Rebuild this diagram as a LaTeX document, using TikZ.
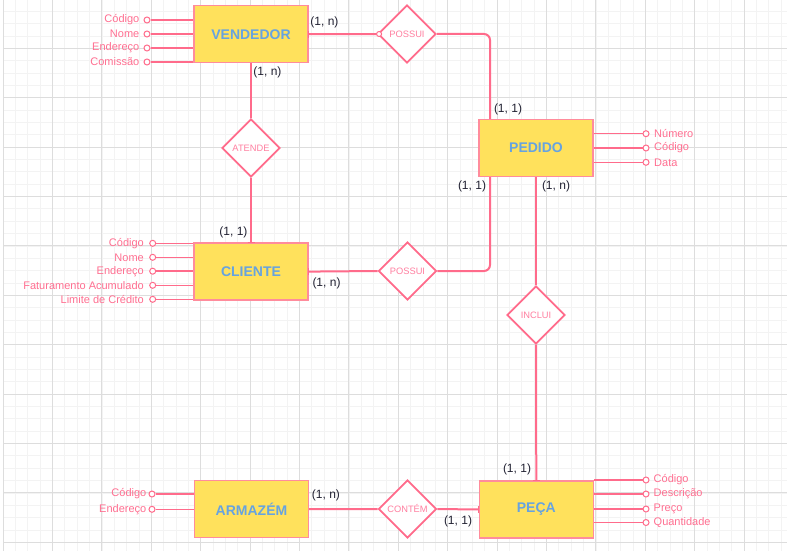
\documentclass[tikz,border=0pt]{standalone}
\usepackage{fontspec}
\setmainfont{Liberation Sans}
\usetikzlibrary{shapes.geometric,calc}
\definecolor{entfill}{HTML}{FFE15C}
\definecolor{entborder}{HTML}{FF8C9C}
\definecolor{enttext}{HTML}{66A3E0}
\definecolor{linepink}{HTML}{FF6B8B}
\definecolor{attrpink}{HTML}{FF6F91}
\definecolor{reltext}{HTML}{FF7FA0}
\definecolor{cardtext}{HTML}{222233}
\definecolor{minorgrid}{HTML}{F3F3F3}
\definecolor{majorgrid}{HTML}{DDDDDD}
\begin{document}
\begin{tikzpicture}[x=1pt,y=-1pt,
  entity/.style={draw=entborder, fill=entfill, line width=1.3pt, minimum width=114pt, minimum height=57pt, inner sep=0pt, font=\fontsize{14}{16}\selectfont\bfseries, text=enttext},
  rel/.style={diamond, draw=linepink, fill=white, line width=1.8pt, minimum width=58pt, minimum height=58pt, inner sep=0pt, aspect=1, font=\fontsize{9.3}{11}\selectfont, text=reltext},
  attrc/.style={circle, draw=linepink, fill=white, line width=1pt, minimum size=6pt, inner sep=0pt},
  attrl/.style={font=\fontsize{11}{13}\selectfont, text=attrpink, inner sep=0pt},
  card/.style={font=\fontsize{12}{14}\selectfont, text=cardtext, inner sep=0pt},
  conn/.style={draw=linepink, line width=2pt},
  attrline/.style={draw=linepink, line width=1.5pt},
  tick/.style={draw=linepink, line width=1.5pt}
]
\useasboundingbox (0,0) rectangle (787,551);
\fill[white] (0,0) rectangle (787,551);
% grid
\foreach \i in {0,...,63} { \draw[minorgrid, line width=0.8pt] ({3.1+12.35*\i},0) -- ++(0,551); }
\foreach \j in {1,...,44} { \draw[minorgrid, line width=0.8pt] (3.1,{-1.1+12.35*\j}) -- (787,{-1.1+12.35*\j}); }
\foreach \i in {0,...,15} { \draw[majorgrid, line width=1pt] ({3.1+49.4*\i},0) -- ++(0,551); }
\foreach \j in {1,...,11} { \draw[majorgrid, line width=1pt] (3.1,{-1.1+49.4*\j}) -- (787,{-1.1+49.4*\j}); }

% entities
\node[entity] (V) at (251,34.2) {VENDEDOR};
\node[entity] (P) at (536,148) {PEDIDO};
\node[entity] (C) at (251,271.6) {CLIENTE};
\node[entity] (A) at (251.5,509.2) {ARMAZÉM};
\node[entity] (Pc) at (536.3,509.5) {PEÇA};

% relationships
\node[rel] (R1) at (407,34) {POSSUI};
\node[rel] (R2) at (251,148) {ATENDE};
\node[rel] (R3) at (407.5,271) {POSSUI};
\node[rel] (R4) at (536,315) {INCLUI};
\node[rel] (R5) at (407.5,509) {CONTÉM};

% connectors
\coordinate (Ptop) at ([xshift=-46pt]P.north);
\coordinate (Pbot) at ([xshift=-46pt]P.south);
\draw[conn] (V.east) -- (R1.west);
\draw[conn, rounded corners=6pt] (R1.east) -| (Ptop);
\draw[conn, rounded corners=6pt] (Pbot) |- (R3.east);
\draw[conn] (C.east) -- (R3.west);
\draw[conn] (V.south) -- (R2.north);
\draw[conn] (R2.south) -- (C.north);
\draw[conn] (P.south) -- (R4.north);
\draw[conn] (R4.south) -- (Pc.north);
\draw[conn] (A.east) -- (R5.west);
\draw[conn] (R5.east) -- (Pc.west);

% end marks
\draw[tick] ([yshift=-3.5pt]V.east) -- ([yshift=3.5pt]V.east);
\draw[tick] ([xshift=-3.5pt]C.north) -- ([xshift=3.5pt]C.north);
\draw[tick] ([yshift=-3.5pt]C.east) -- ([yshift=3.5pt]C.east);
\draw[tick] ([yshift=-3.5pt]Pc.west) -- ([yshift=3.5pt]Pc.west);
\draw[tick] ([xshift=-3.5pt]Pc.north) -- ([xshift=3.5pt]Pc.north);
\node[circle, draw=linepink, fill=white, line width=1pt, minimum size=5pt, inner sep=0pt] (R1m) at ([xshift=2pt]R1.west) {};

% VENDEDOR attributes
\node[attrc] (va1) at (147,20) {};
\node[attrc] (va2) at (147,34) {};
\node[attrc] (va3) at (147,48) {};
\node[attrc] (va4) at (147,62) {};
\foreach \k in {1,2,3,4} { \draw[attrline] (va\k) -- (va\k -| V.west); }
\node[attrl, anchor=east] (vl1) at (139.5,20) {Código};
\node[attrl, anchor=east] (vl2) at (139.5,34) {Nome};
\node[attrl, anchor=east] (vl3) at (139.5,48) {Endereço};
\node[attrl, anchor=east] (vl4) at (139.5,62) {Comissão};

% CLIENTE attributes
\node[attrc] (ca1) at (152.7,243.3) {};
\node[attrc] (ca2) at (152.7,257.3) {};
\node[attrc] (ca3) at (152.7,271.2) {};
\node[attrc] (ca4) at (152.7,285.3) {};
\node[attrc] (ca5) at (152.7,299.3) {};
\foreach \k in {1,2,3,4,5} { \draw[attrline] (ca\k) -- (ca\k -| C.west); }
\node[attrl, anchor=east] (cl1) at (144,243.3) {Código};
\node[attrl, anchor=east] (cl2) at (144,257.3) {Nome};
\node[attrl, anchor=east] (cl3) at (144,271.2) {Endereço};
\node[attrl, anchor=east] (cl4) at (144,285.3) {Faturamento Acumulado};
\node[attrl, anchor=east] (cl5) at (144,299.3) {Limite de Crédito};

% PEDIDO attributes
\node[attrc] (pa1) at (646,133.7) {};
\node[attrc] (pa2) at (646,148) {};
\node[attrc] (pa3) at (646,162.3) {};
\foreach \k in {1,2,3} { \draw[attrline] (pa\k) -- (pa\k -| P.east); }
\node[attrl, anchor=west] (pl1) at (654,133.7) {Número};
\node[attrl, anchor=west] (pl2) at (654,148) {Código};
\node[attrl, anchor=west] (pl3) at (654,162.3) {Data};

% ARMAZEM attributes
\node[attrc] (aa1) at (152,494) {};
\node[attrc] (aa2) at (152,509.3) {};
\foreach \k in {1,2} { \draw[attrline] (aa\k) -- (aa\k -| A.west); }
\node[attrl, anchor=east] (al1) at (146.5,494) {Código};
\node[attrl, anchor=east] (al2) at (146.5,509.3) {Endereço};

% PECA attributes
\node[attrc] (ea1) at (646,480) {};
\node[attrc] (ea2) at (646,494) {};
\node[attrc] (ea3) at (646,509) {};
\node[attrc] (ea4) at (646,522.5) {};
\foreach \k in {1,2,3,4} { \draw[attrline] (ea\k) -- (ea\k -| Pc.east); }
\node[attrl, anchor=west] (el1) at (653.5,480) {Código};
\node[attrl, anchor=west] (el2) at (653.5,494) {Descrição};
\node[attrl, anchor=west] (el3) at (653.5,509) {Preço};
\node[attrl, anchor=west] (el4) at (653.5,522.5) {Quantidade};

% cardinalities
\node[card] (k1) at (324.5,22) {(1, n)};
\node[card] (k2) at (267.5,72.5) {(1, n)};
\node[card] (k3) at (508,109) {(1, 1)};
\node[card] (k4) at (472,186) {(1, 1)};
\node[card] (k5) at (556,186) {(1, n)};
\node[card] (k6) at (233.5,232) {(1, 1)};
\node[card] (k7) at (326.5,283) {(1, n)};
\node[card] (k8) at (326,495.5) {(1, n)};
\node[card] (k9) at (458,521) {(1, 1)};
\node[card] (k10) at (517,469.5) {(1, 1)};
\end{tikzpicture}
\end{document}
